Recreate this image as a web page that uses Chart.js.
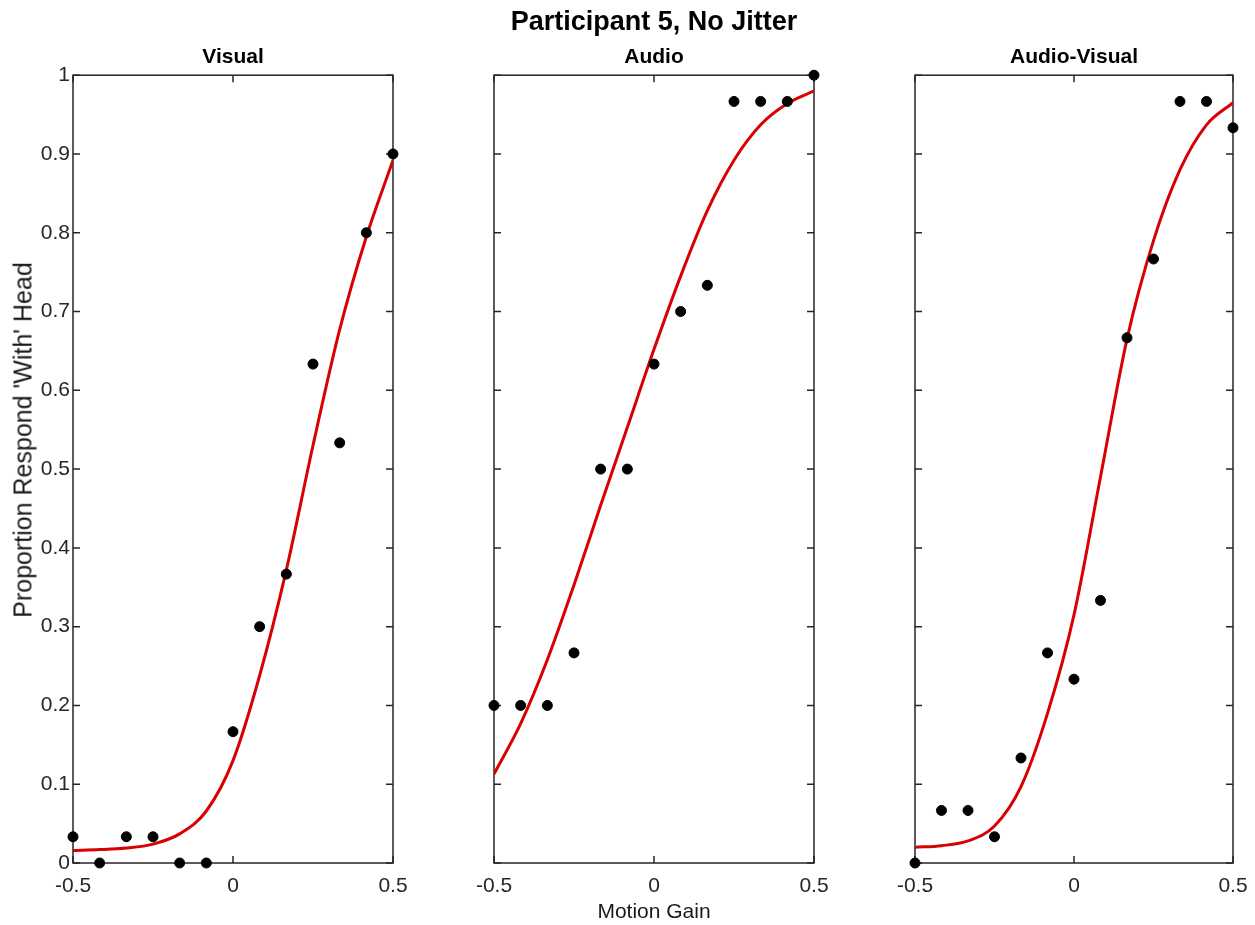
<!DOCTYPE html>
<html>
<head>
<meta charset="utf-8">
<script src="https://cdn.jsdelivr.net/npm/chart.js@4.4.1/dist/chart.umd.min.js"></script>
<style>
  html, body { margin: 0; padding: 0; background: #fff; overflow: hidden; }
  #fig { position: relative; width: 1255px; height: 925px; font-family: "Liberation Sans", Arial, sans-serif; }
  #fig canvas { position: absolute; top: 0; }
  #ylabel {
    position: absolute; left: 23px; top: 440px;
    transform: translate(-50%, -50%) rotate(-90deg);
    white-space: nowrap; font-size: 25px; line-height: 1; color: #1a1a1a;
  }
</style>
</head>
<body>
<div id="fig">
  <canvas id="cVisual" width="466" height="925" style="left:0px"></canvas>
  <canvas id="cAudio" width="360" height="925" style="left:474px"></canvas>
  <canvas id="cAV" width="358" height="925" style="left:895px"></canvas>
  <div id="ylabel">Proportion Respond 'With' Head</div>
</div>
<script>
// motion gain levels tested (x)
const motionGain = [-0.5, -0.4167, -0.3333, -0.25, -0.1667, -0.0833, 0, 0.0833, 0.1667, 0.25, 0.3333, 0.4167, 0.5];

const visualObs = [0.0333, 0, 0.0333, 0.0333, 0, 0, 0.1667, 0.3, 0.3667, 0.6333, 0.5333, 0.8, 0.9];
const audioObs  = [0.2, 0.2, 0.2, 0.2667, 0.5, 0.5, 0.6333, 0.7, 0.7333, 0.9667, 0.9667, 0.9667, 1.0];
const avObs     = [0, 0.0667, 0.0667, 0.0333, 0.1333, 0.2667, 0.2333, 0.3333, 0.6667, 0.7667, 0.9667, 0.9667, 0.9333];

// fitted curves, sampled off the red lines at the same gains
const visualFit = [0.016, 0.017, 0.019, 0.024, 0.037, 0.066, 0.130, 0.238, 0.372, 0.530, 0.677, 0.795, 0.892];
const audioFit  = [0.113, 0.177, 0.258, 0.353, 0.454, 0.553, 0.652, 0.745, 0.828, 0.892, 0.937, 0.964, 0.980];
const avFit     = [0.020, 0.022, 0.028, 0.047, 0.097, 0.190, 0.315, 0.490, 0.665, 0.790, 0.880, 0.937, 0.965];

const xTicks = [-0.5, 0, 0.5];
const FONT = '"Liberation Sans", Arial, sans-serif';
const AXIS = '#262626';

function toPoints(xs, ys) {
  return xs.map((x, i) => ({ x, y: ys[i] }));
}

const frameTicks = {
  id: 'frameTicks',
  beforeDatasetsDraw(chart) {
    const { ctx, chartArea: a, scales } = chart;
    ctx.save();
    ctx.strokeStyle = AXIS;
    ctx.lineWidth = 1.5;
    ctx.strokeRect(a.left, a.top, a.right - a.left, a.bottom - a.top);
    ctx.beginPath();
    scales.y.ticks.forEach(t => {
      const py = scales.y.getPixelForValue(t.value);
      ctx.moveTo(a.left, py); ctx.lineTo(a.left + 7, py);
      ctx.moveTo(a.right, py); ctx.lineTo(a.right - 7, py);
    });
    scales.x.ticks.forEach(t => {
      const px = scales.x.getPixelForValue(t.value);
      ctx.moveTo(px, a.bottom); ctx.lineTo(px, a.bottom - 7);
      ctx.moveTo(px, a.top); ctx.lineTo(px, a.top + 7);
    });
    ctx.stroke();
    ctx.restore();
  }
};

function makePanel(id, p) {
  const title = p.mainTitle
    ? { display: true, fullSize: false, text: p.mainTitle, color: '#000', font: { family: FONT, size: 27, weight: 'bold' }, padding: { top: 6, bottom: 0 } }
    : { display: false };
  const sub = p.mainTitle
    ? { top: 6.6, bottom: 5 }
    : { top: 45, bottom: 5 };

  return new Chart(document.getElementById(id), {
    type: 'scatter',
    data: {
      datasets: [
        { data: toPoints(motionGain, p.obs), backgroundColor: '#000', borderColor: '#000', pointRadius: 5, pointHoverRadius: 5, clip: 12, order: 0 },
        { data: toPoints(motionGain, p.fit), showLine: true, borderColor: '#d80000', borderWidth: 3, pointRadius: 0, cubicInterpolationMode: 'monotone', order: 1 }
      ]
    },
    options: {
      responsive: false,
      animation: false,
      events: [],
      layout: { padding: { left: 0, right: p.side, top: 0, bottom: 0 } },
      plugins: {
        legend: { display: false },
        tooltip: { enabled: false },
        title,
        subtitle: { display: true, fullSize: false, text: p.name, color: '#000', font: { family: FONT, size: 21, weight: 'bold' }, padding: sub }
      },
      scales: {
        x: {
          type: 'linear', min: -0.5, max: 0.5,
          afterBuildTicks: s => { s.ticks = xTicks.map(v => ({ value: v })); },
          ticks: { color: AXIS, font: { family: FONT, size: 21 }, padding: 11, maxRotation: 0, autoSkip: false, callback: v => String(v) },
          grid: { display: false, drawTicks: false },
          border: { display: false },
          title: { display: !!p.xLabel, text: p.xLabel || '', color: '#1a1a1a', font: { family: FONT, size: 21 }, padding: { top: 0, bottom: 0 } },
          afterFit: s => { s.height = 62; s.paddingLeft = 0; s.paddingRight = 0; }
        },
        y: {
          type: 'linear', min: 0, max: 1,
          ticks: { display: p.yLabels, stepSize: 0.1, color: AXIS, font: { family: FONT, size: 21 }, padding: 3, callback: v => String(Math.round(v * 10) / 10) },
          grid: { display: false, drawTicks: false },
          border: { display: false },
          afterFit: s => { s.width = p.side; s.paddingTop = 0; s.paddingBottom = 0; }
        }
      }
    },
    plugins: [frameTicks]
  });
}

makePanel('cVisual', { name: 'Visual', obs: visualObs, fit: visualFit, side: 73, yLabels: true });
makePanel('cAudio', { name: 'Audio', obs: audioObs, fit: audioFit, side: 20, yLabels: false, mainTitle: 'Participant 5, No Jitter', xLabel: 'Motion Gain' });
makePanel('cAV', { name: 'Audio-Visual', obs: avObs, fit: avFit, side: 20, yLabels: false });
</script>
</body>
</html>
